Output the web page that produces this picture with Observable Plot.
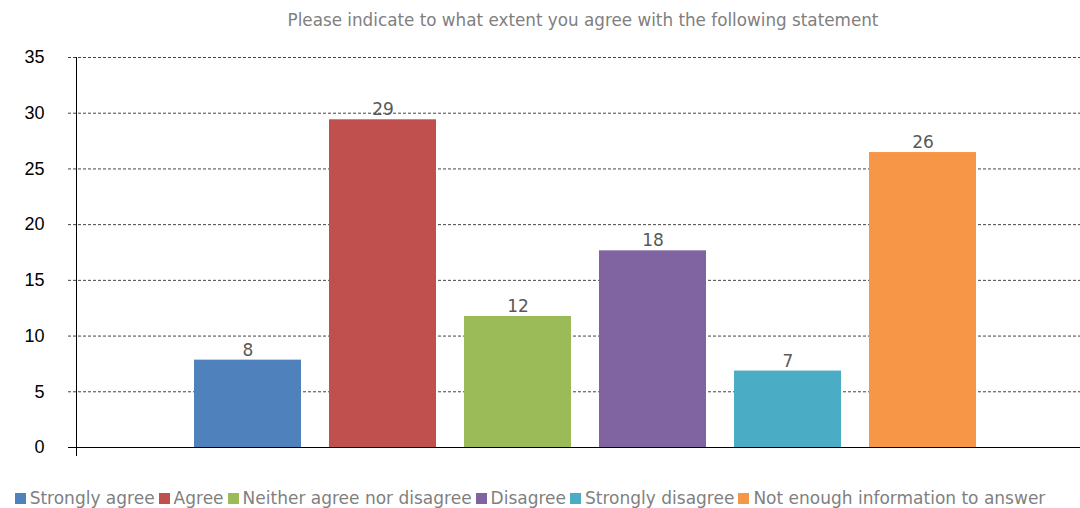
<!DOCTYPE html>
<html><head><meta charset="utf-8">
<script src="https://cdn.jsdelivr.net/npm/d3@7"></script>
<script src="https://cdn.jsdelivr.net/npm/@observablehq/plot@0.6"></script>
<style>
body{margin:0;background:#fff;width:1080px;height:508px;overflow:hidden;position:relative;font-family:"DejaVu Sans",sans-serif}
#title{position:absolute;top:10px;left:86px;width:994px;text-align:center;color:#808080;font-size:16.8px;line-height:20px}
#chart{position:absolute;top:40px;left:0}
#legend{position:absolute;top:488px;left:0;width:1064px;display:flex;justify-content:center;color:#7f7f7f;font-size:17px;line-height:20px;white-space:nowrap}
#legend .item{display:flex;align-items:center;margin-right:4px}
#legend .sw{width:11px;height:11px;margin-right:4px}
</style></head>
<body>
<div id="title">Please indicate to what extent you agree with the following statement</div>
<div id="chart"></div>
<div id="legend"></div>
<script>
const categories = ["Strongly agree","Agree","Neither agree nor disagree","Disagree","Strongly disagree","Not enough information to answer"];
const values = [7.84, 29.41, 11.76, 17.65, 6.86, 26.47];
const labels = [8, 29, 12, 18, 7, 26];
const colors = ["#4F81BD","#C0504D","#9BBB59","#8064A2","#4BACC6","#F79646"];
const yTicks = [0,5,10,15,20,25,30,35];

const data = categories.map((c,i)=>({category:c, value:values[i], label:String(labels[i])}));

const plot = Plot.plot({
  width:1080, height:427,
  marginLeft:76, marginRight:0, marginTop:17, marginBottom:20,
  x:{domain:categories, range:[165,1005], padding:0.21, axis:null},
  y:{domain:[0,35], axis:null},
  color:{domain:categories, range:colors},
  marks:[
    Plot.ruleY(yTicks.filter(d=>d>0), {stroke:"#444", strokeDasharray:"3,2", insetLeft:-8}),
    Plot.barY(data,{x:"category", y:"value", fill:"category"}),
    Plot.ruleY([0],{stroke:"#000", insetLeft:-8}),
    Plot.frame({anchor:"left", stroke:"#000", insetBottom:-8}),
    Plot.axisY({ticks:yTicks, label:null, tickSize:0, tickPadding:32, fontSize:18, fill:"#000", fontFamily:"Liberation Sans, Arial, sans-serif"}),
    Plot.text(data,{x:"category", y:"value", text:"label", dy:-10, fill:"#595959", fontSize:17, fontFamily:"DejaVu Sans"})
  ]
});
document.getElementById("chart").appendChild(plot);

const leg = document.getElementById("legend");
categories.forEach((c,i)=>{
  const it = document.createElement("div"); it.className="item";
  const sw = document.createElement("div"); sw.className="sw"; sw.style.background=colors[i];
  const tx = document.createElement("span"); tx.textContent=c;
  it.appendChild(sw); it.appendChild(tx); leg.appendChild(it);
});
</script>
</body></html>
